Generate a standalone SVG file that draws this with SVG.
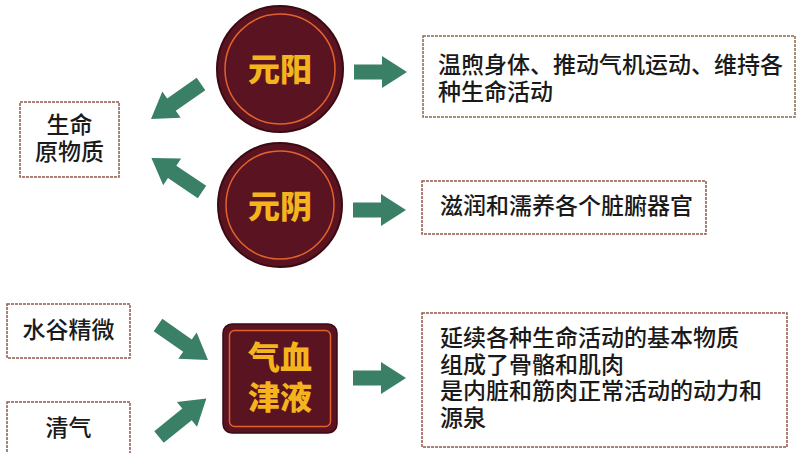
<svg xmlns="http://www.w3.org/2000/svg" xmlns:xlink="http://www.w3.org/1999/xlink" width="797" height="453" viewBox="0 0 797 453">
<style>
.box{fill:#fff;stroke:#92584c;stroke-width:1.5;stroke-dasharray:3 1}
.txt{font-family:"Noto Sans CJK SC","Noto Sans",sans-serif;font-size:23px;font-weight:500;fill:#1a1a1a}
.title{font-family:"Noto Sans CJK SC","Noto Sans",sans-serif;font-size:32px;font-weight:900;fill:#f4b41e;text-anchor:middle}
.disk{fill:#5a1320;stroke:#3c0a12;stroke-width:2}
.ring{fill:none;stroke:#e2622c;stroke-width:1.5}
.arrow{fill:#3a8066}
</style>
<defs>
<path id="aR" d="M0,-7.5 H28 V-16 L53,0 L28,16 V7.5 H0 Z"/>
<path id="aD" d="M0,-7.5 H36 V-16 L61,0 L36,16 V7.5 H0 Z"/>
</defs>
<rect width="797" height="453" fill="#fff"/>
<g id="connectors" class="arrow">
<use xlink:href="#aR" transform="translate(354,72)"/>
<use xlink:href="#aR" transform="translate(353,210)"/>
<use xlink:href="#aR" transform="translate(353,378)"/>
<use xlink:href="#aD" transform="translate(201,84) rotate(145)"/>
<use xlink:href="#aD" transform="translate(202,192) rotate(-146)"/>
<use xlink:href="#aD" transform="translate(158,325) rotate(35)"/>
<use xlink:href="#aD" transform="translate(159,437) rotate(-39)"/>
</g>
<g id="yuanyang">
<circle class="disk" cx="280" cy="69" r="63"/>
<circle class="ring" cx="280" cy="69" r="55"/>
<text class="title" x="280" y="81">元阳</text>
</g>
<g id="yuanyin">
<circle class="disk" cx="280" cy="205" r="62"/>
<circle class="ring" cx="280" cy="205" r="54"/>
<text class="title" x="280" y="218">元阴</text>
</g>
<g id="qixue">
<rect x="223" y="324" width="114" height="109" rx="9" fill="#5a1320" stroke="#3c0a12" stroke-width="1.5"/>
<rect x="229.5" y="330.5" width="101" height="96" rx="5" class="ring" stroke-width="1"/>
<text class="title" x="280" y="369">气血</text>
<text class="title" x="280" y="409">津液</text>
</g>
<g id="shengming">
<rect class="box" x="20" y="102" width="99" height="75"/>
<text class="txt" x="69.5" y="133" text-anchor="middle">生命</text>
<text class="txt" x="69.5" y="160" text-anchor="middle">原物质</text>
</g>
<g id="shuigu">
<rect class="box" x="7" y="304" width="123" height="54"/>
<text class="txt" x="68.5" y="338" text-anchor="middle">水谷精微</text>
</g>
<g id="qingqi">
<rect class="box" x="7" y="402" width="123" height="60"/>
<text class="txt" x="68.5" y="436" text-anchor="middle">清气</text>
</g>
<g id="desc1">
<rect class="box" x="423" y="36" width="372" height="81" style="stroke:#8c6a48"/>
<text class="txt" x="438" y="73">温煦身体、推动气机运动、维持各</text>
<text class="txt" x="438" y="100">种生命活动</text>
</g>
<g id="desc2">
<rect class="box" x="422" y="181" width="284" height="53"/>
<text class="txt" x="440" y="214">滋润和濡养各个脏腑器官</text>
</g>
<g id="desc3">
<rect class="box" x="422" y="313" width="365" height="134"/>
<text class="txt" x="440" y="346">延续各种生命活动的基本物质</text>
<text class="txt" x="440" y="373">组成了骨骼和肌肉</text>
<text class="txt" x="440" y="399">是内脏和筋肉正常活动的动力和</text>
<text class="txt" x="440" y="426">源泉</text>
</g>
</svg>
